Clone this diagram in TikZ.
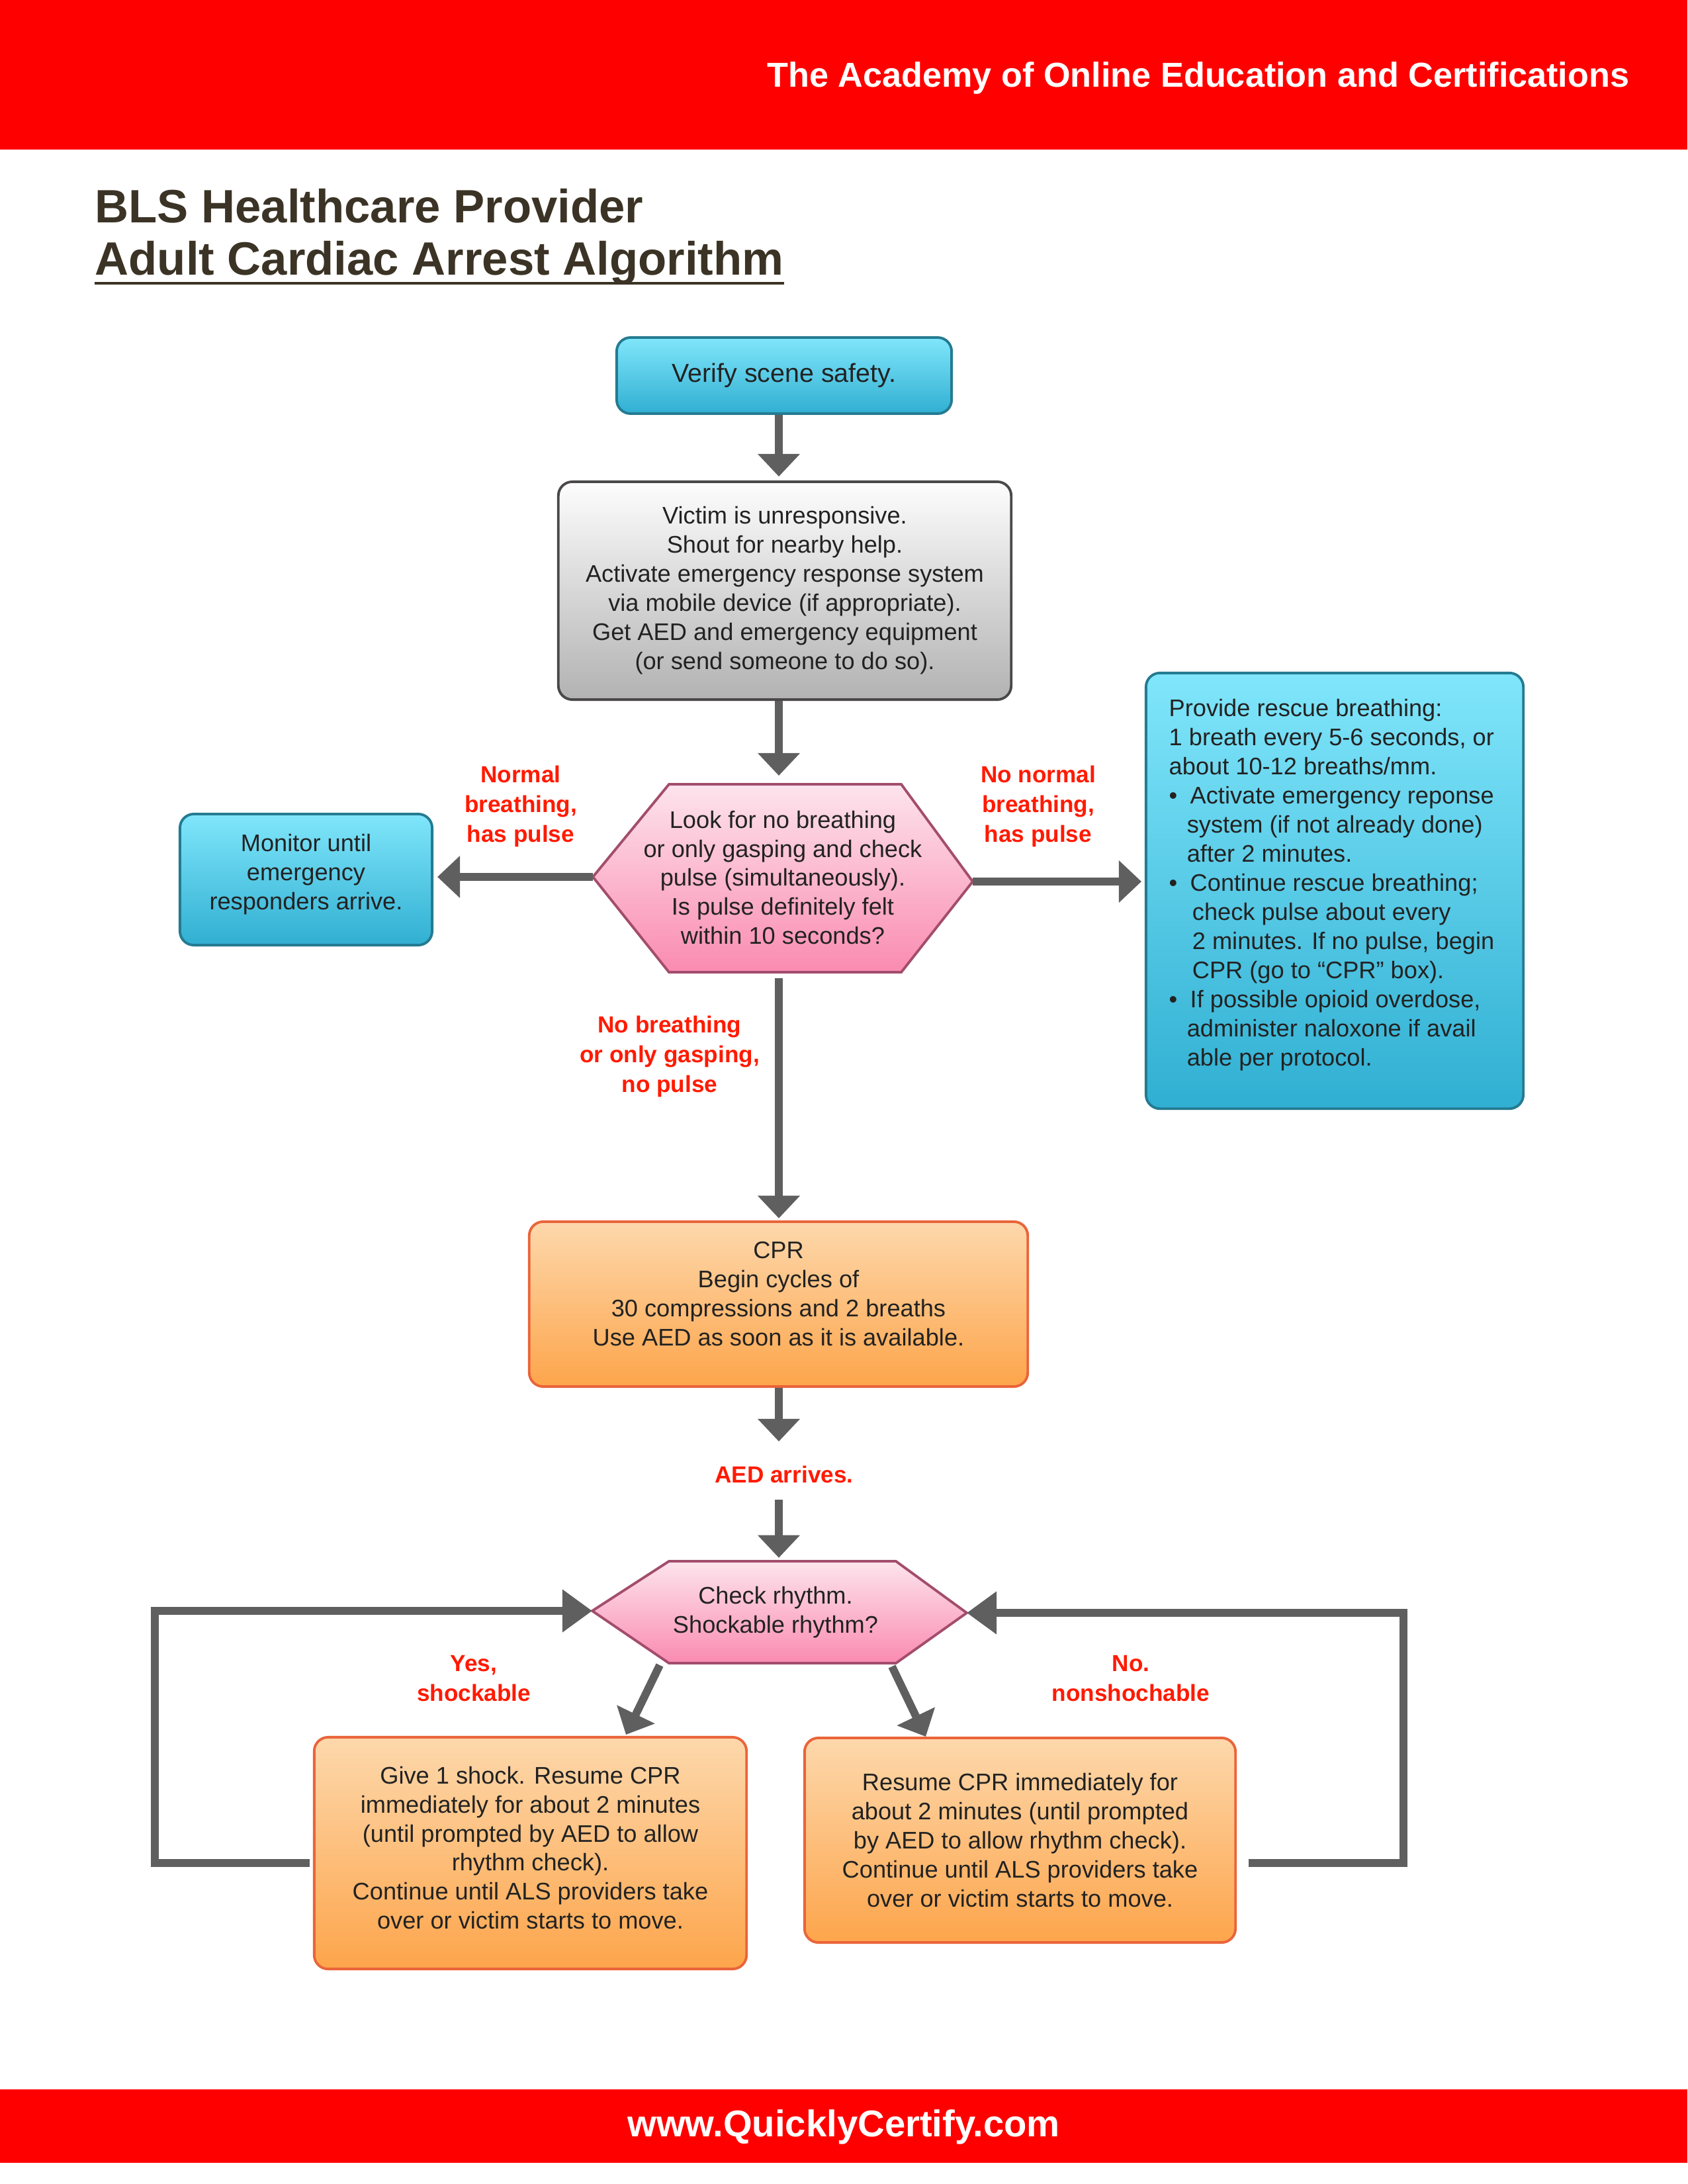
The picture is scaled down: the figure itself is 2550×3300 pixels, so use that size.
\documentclass[tikz,border=0pt]{standalone}
\usepackage{fontspec}
\setmainfont{Liberation Sans}
\usetikzlibrary{arrows.meta}
\definecolor{hdrred}{HTML}{FF0000}
\definecolor{lblred}{HTML}{FF1A00}
\definecolor{titlec}{HTML}{3B3325}
\definecolor{txt}{HTML}{222222}
\definecolor{arrc}{HTML}{5F5F5F}
\definecolor{cyanT}{HTML}{80E6FB}
\definecolor{cyanB}{HTML}{30AFD2}
\definecolor{cyanD}{HTML}{247B91}
\definecolor{grayT}{HTML}{FDFDFD}
\definecolor{grayB}{HTML}{B2B2B2}
\definecolor{grayD}{HTML}{4A4848}
\definecolor{pinkT}{HTML}{FDE4EC}
\definecolor{pinkB}{HTML}{FA8BB0}
\definecolor{pinkD}{HTML}{A34D6D}
\definecolor{orT}{HTML}{FDD8AC}
\definecolor{orB}{HTML}{FDA54B}
\definecolor{orD}{HTML}{EA643A}
\tikzset{
  bodyfont/.style={font=\fontsize{10.3}{12.5}\selectfont},
  box/.style={rounded corners=6pt, line width=1.1pt, inner sep=0pt, align=center, text=txt, bodyfont},
  cyanbox/.style={box, draw=cyanD, top color=cyanT, bottom color=cyanB},
  graybox/.style={box, draw=grayD, top color=grayT, bottom color=grayB},
  orbox/.style={box, draw=orD, top color=orT, bottom color=orB},
  hexshape/.style={draw=pinkD, line width=1.1pt, top color=pinkT, bottom color=pinkB},
  boxtext/.style={inner sep=0pt, align=center, text=txt, bodyfont},
  lbl/.style={text=lblred, font=\fontsize{10}{12.8}\selectfont\bfseries, align=center, inner sep=0pt},
  arr/.style={draw=arrc, line width=3.4pt, -{Triangle[width=17.6pt,length=9.7pt]}},
  looparr/.style={draw=arrc, line width=3.4pt, -{Triangle[width=17.6pt,length=12.8pt]}},
}
\begin{document}
\begin{tikzpicture}[x=0.01cm,y=-0.01cm]
\useasboundingbox (0,0) rectangle (2550,3300);
% header and footer bands
\fill[hdrred] (0,0) rectangle (2550,226);
\node[anchor=base east, inner sep=0pt, text=white, font=\fontsize{14.85}{18}\selectfont\bfseries] (hdr) at (2463,132) {The Academy of Online Education and Certifications};
\fill[hdrred] (0,3157) rectangle (2550,3268);
\node[anchor=base, inner sep=0pt, text=white, font=\fontsize{16}{19}\selectfont\bfseries] (ftr) at (1275,3228) {www.QuicklyCertify.com};
% title
\node[anchor=base west, inner sep=0pt, text=titlec, font=\fontsize{20.1}{24}\selectfont\bfseries] (t1) at (143,336) {BLS Healthcare Provider};
\node[anchor=base west, inner sep=0pt, text=titlec, font=\fontsize{20.1}{24}\selectfont\bfseries] (t2) at (143,415) {Adult Cardiac Arrest Algorithm};
\draw[titlec, line width=0.9pt] ([yshift=-3.7pt]t2.base west) -- ([yshift=-3.7pt]t2.base east);
% boxes
\node[cyanbox, minimum width=5.06cm, minimum height=1.15cm, font=\fontsize{11.2}{13}\selectfont] (verify) at (1185,567.5) {Verify scene safety.};
\node[graybox, minimum width=6.84cm, minimum height=3.29cm] (victim) at (1186,892.5) {Victim is unresponsive.\\Shout for nearby help.\\Activate emergency response system\\via mobile device (if appropriate).\\Get AED and emergency equipment\\(or send someone to do so).};
\node[cyanbox, minimum width=3.81cm, minimum height=1.98cm] (monitor) at (462.5,1329) {};
\node[boxtext] (monitortxt) at (462.5,1321) {Monitor until\\emergency\\responders arrive.};
\node[cyanbox, minimum width=5.70cm, minimum height=6.58cm] (rescue) at (2017,1346) {};
\node[anchor=north west, inner sep=0pt, align=left, text=txt, bodyfont] (rescuetxt) at (1766,1056) {Provide rescue breathing:\\
1 breath every 5-6 seconds, or\\
about 10-12 breaths/mm.\\
\makebox[9.1pt][l]{•}Activate emergency reponse\\
\hspace*{7.7pt}system (if not already done)\\
\hspace*{7.7pt}after 2 minutes.\\
\makebox[9.1pt][l]{•}Continue rescue breathing;\\
\hspace*{10pt}check pulse about every\\
\hspace*{10pt}2 minutes. If no pulse, begin\\
\hspace*{10pt}CPR (go to “CPR” box).\\
\makebox[9.1pt][l]{•}If possible opioid overdose,\\
\hspace*{7.7pt}administer naloxone if avail\\
\hspace*{7.7pt}able per protocol.};
\node[orbox, minimum width=7.53cm, minimum height=2.49cm] (cpr) at (1176.5,1970.5) {};
\node[boxtext] (cprtxt) at (1176.5,1955) {CPR\\Begin cycles of\\30 compressions and 2 breaths\\Use AED as soon as it is available.};
\node[orbox, minimum width=6.53cm, minimum height=3.50cm] (shock) at (801.5,2800) {};
\node[boxtext] (shocktxt) at (801.5,2792) {Give 1 shock. Resume CPR\\immediately for about 2 minutes\\(until prompted by AED to allow\\rhythm check).\\Continue until ALS providers take\\over or victim starts to move.};
\node[orbox, minimum width=6.51cm, minimum height=3.09cm] (resume) at (1541.5,2780.5) {Resume CPR immediately for\\about 2 minutes (until prompted\\by AED to allow rhythm check).\\Continue until ALS providers take\\over or victim starts to move.};
% hexagon 1
\coordinate (h1w) at (896,1325);
\coordinate (h1e) at (1470,1332);
\coordinate (h1n) at (1177,1185);
\coordinate (h1s) at (1177,1469);
\path[hexshape] (h1w) -- (1011,1185) -- (1362,1185) -- (h1e) -- (1362,1469) -- (1011,1469) -- cycle;
\node[boxtext] (h1) at (1183,1326) {Look for no breathing\\or only gasping and check\\pulse (simultaneously).\\Is pulse definitely felt\\within 10 seconds?};
% hexagon 2
\coordinate (h2w) at (895,2434);
\coordinate (h2e) at (1461,2437);
\coordinate (h2n) at (1177,2359);
\path[hexshape] (h2w) -- (1011,2359) -- (1354,2359) -- (h2e) -- (1354,2513) -- (1011,2513) -- cycle;
\node[boxtext] (h2) at (1172,2436) {Check rhythm.\\Shockable rhythm?};
% labels
\node[lbl] (lnormal) at (787,1218) {Normal\\breathing,\\has pulse};
\node[lbl] (lnonormal) at (1569,1218) {No normal\\breathing,\\has pulse};
\node[lbl] (lnobreath) at (1012,1596) {No breathing\\or only gasping,\\no pulse};
\node[lbl, anchor=base] (laed) at (1185,2240) {AED arrives.};
\node[lbl] (lyes) at (716,2536) {Yes,\\shockable};
\node[lbl] (lno) at (1709,2536) {No.\\nonshochable};
% connectors
\coordinate (aedtop) at (1177,2178);
\coordinate (aedbot) at (1177,2266);
\coordinate (d1s) at (997,2516);
\coordinate (d1e) at (946,2621);
\coordinate (d2s) at (1348,2518);
\coordinate (d2e) at (1399,2624);
\coordinate (lpl) at (234,2815);
\coordinate (lpr) at (2121,2815);
\draw[arr, shorten >=1.7pt] (verify.south -| h1n) -- (victim.north -| h1n);
\draw[arr, shorten >=3.7pt] (victim.south -| h1n) -- (h1n);
\draw[arr, shorten <=2.5pt, shorten >=0.9pt] (h1s) -- (cpr.north -| h1s);
\draw[arr] (cpr.south -| h1s) -- (aedtop);
\draw[arr, shorten >=1.5pt] (aedbot) -- (h2n);
\draw[arr, shorten >=1.7pt] (h1w) -- (h1w -| monitor.east);
\draw[arr, shorten >=1.4pt] (h1e) -- (h1e -| rescue.west);
\draw[arr] (d1s) -- (d1e);
\draw[arr] (d2s) -- (d2e);
\draw[looparr] ([xshift=-1.4pt]shock.west |- lpl) -- (lpl) |- (h2w);
\draw[looparr] ([xshift=5.1pt]resume.east |- lpr) -- (lpr) |- (h2e);
\end{tikzpicture}
\end{document}
